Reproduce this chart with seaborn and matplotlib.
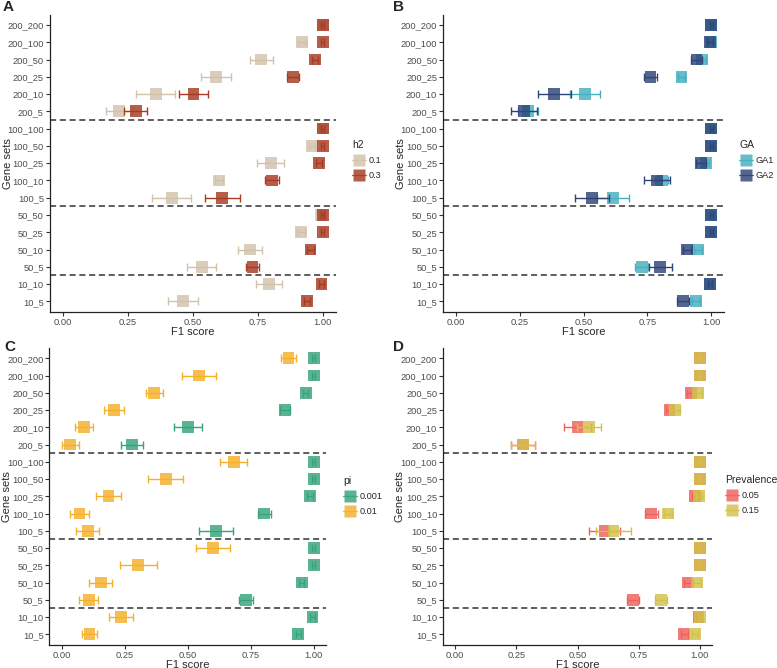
import numpy as np
import pandas as pd
import matplotlib
matplotlib.use("Agg")
import matplotlib.pyplot as plt
import seaborn as sns
from matplotlib.lines import Line2D

# =============================================
# DATA (top row first)
# =============================================
gene_sets = ["200_200", "200_100", "200_50", "200_25", "200_10", "200_5",
             "100_100", "100_50", "100_25", "100_10", "100_5",
             "50_50", "50_25", "50_10", "50_5",
             "10_10", "10_5"]
block_breaks = [5.5, 10.5, 14.5]

# A: heritability
h2_labels = ["0.1", "0.3"]
h2_01_mean = [1.0, 0.92, 0.763, 0.59, 0.358, 0.218, 1.0, 0.958, 0.80, 0.60, 0.419,
              0.993, 0.917, 0.72, 0.535, 0.792, 0.464]
h2_01_err = [0.005, 0.015, 0.044, 0.057, 0.075, 0.05, 0.005, 0.012, 0.052, 0.015, 0.075,
             0.008, 0.015, 0.046, 0.056, 0.05, 0.058]
h2_03_mean = [1.0, 1.0, 0.97, 0.887, 0.503, 0.281, 1.0, 1.0, 0.985, 0.805, 0.614,
              1.0, 1.0, 0.953, 0.73, 0.995, 0.94]
h2_03_err = [0.005, 0.005, 0.012, 0.023, 0.055, 0.045, 0.005, 0.005, 0.012, 0.028, 0.066,
             0.005, 0.005, 0.012, 0.026, 0.01, 0.012]

# B: genetic architecture
ga_labels = ["GA1", "GA2"]
ga1_mean = [1.0, 1.0, 0.965, 0.884, 0.506, 0.283, 1.0, 1.0, 0.98, 0.806, 0.617,
            1.0, 1.0, 0.948, 0.728, 0.995, 0.94]
ga1_err = [0.005, 0.008, 0.015, 0.015, 0.057, 0.04, 0.005, 0.005, 0.012, 0.025, 0.063,
           0.005, 0.005, 0.015, 0.025, 0.008, 0.015]
ga2_mean = [1.0, 0.995, 0.942, 0.762, 0.385, 0.268, 1.0, 1.0, 0.96, 0.787, 0.533,
            1.0, 1.0, 0.905, 0.80, 0.995, 0.89]
ga2_err = [0.005, 0.01, 0.023, 0.026, 0.065, 0.05, 0.005, 0.005, 0.02, 0.05, 0.065,
           0.005, 0.005, 0.015, 0.045, 0.008, 0.023]

# C: proportion of causal variants
pi_labels = ["0.001", "0.01"]
pi_0001_mean = [1.0, 1.0, 0.968, 0.885, 0.50, 0.278, 1.0, 1.0, 0.984, 0.804, 0.612,
                1.0, 1.0, 0.952, 0.731, 0.995, 0.939]
pi_0001_err = [0.005, 0.005, 0.01, 0.02, 0.055, 0.045, 0.005, 0.005, 0.012, 0.027, 0.066,
               0.005, 0.005, 0.01, 0.027, 0.01, 0.01]
pi_001_mean = [0.90, 0.544, 0.367, 0.207, 0.087, 0.033, 0.682, 0.412, 0.185, 0.07, 0.102,
               0.60, 0.303, 0.154, 0.106, 0.234, 0.109]
pi_001_err = [0.03, 0.066, 0.034, 0.04, 0.037, 0.033, 0.053, 0.069, 0.05, 0.038, 0.045,
              0.066, 0.073, 0.046, 0.037, 0.048, 0.03]

# D: prevalence
prev_labels = ["0.05", "0.15"]
prev_005_mean = [1.0, 1.0, 0.963, 0.876, 0.50, 0.278, 1.0, 1.0, 0.982, 0.802, 0.61,
                 1.0, 1.0, 0.95, 0.728, 0.995, 0.937]
prev_005_err = [0.005, 0.005, 0.015, 0.015, 0.055, 0.05, 0.005, 0.005, 0.015, 0.028, 0.063,
                0.005, 0.005, 0.015, 0.025, 0.01, 0.015]
prev_015_mean = [1.0, 1.0, 0.993, 0.90, 0.547, 0.277, 1.0, 1.0, 0.998, 0.87, 0.647,
                 1.0, 1.0, 0.988, 0.84, 1.0, 0.982]
prev_015_err = [0.005, 0.005, 0.015, 0.02, 0.05, 0.05, 0.005, 0.005, 0.012, 0.015, 0.07,
                0.005, 0.005, 0.015, 0.025, 0.008, 0.012]


def make_df(labels, means, errs):
    frames = []
    for lab, m, e in zip(labels, means, errs):
        frames.append(pd.DataFrame({"gene_set": gene_sets, "pos": np.arange(len(gene_sets)),
                                    "f1": m, "err": e, "group": lab}))
    return pd.concat(frames, ignore_index=True)


def draw_panel(ax, df, labels, colors, title, leg_anchor, ylab_x):
    # second group drawn on top of the first, like the original
    for i, (lab, col) in enumerate(zip(labels, colors)):
        sub = df[df["group"] == lab]
        ax.errorbar(sub["f1"], sub["pos"], xerr=sub["err"], fmt="none", ecolor=col,
                    elinewidth=1.0, capsize=3.2, capthick=1.0, zorder=2 + 2 * i)
        sns.scatterplot(data=sub, x="f1", y="pos", color=col, marker="s", s=72,
                        alpha=0.82, edgecolor="none", legend=False, ax=ax, zorder=3 + 2 * i)
    for yb in block_breaks:
        ax.axhline(yb, color="#333333", lw=1.1, ls=(0, (4, 2.4)), zorder=1)
    ax.set_ylim(len(gene_sets) - 0.4, -0.6)
    ax.set_xlim(-0.05, 1.05)
    ax.set_yticks(np.arange(len(gene_sets)))
    ax.set_yticklabels(gene_sets)
    ax.set_xticks([0, 0.25, 0.5, 0.75, 1.0])
    ax.set_xticklabels(["0.00", "0.25", "0.50", "0.75", "1.00"])
    ax.set_xlabel("F1 score", fontsize=8)
    ax.set_ylabel("Gene sets", fontsize=8)
    ax.yaxis.set_label_coords(ylab_x, 0.5)
    ax.xaxis.set_label_coords(0.5, -0.05)
    ax.tick_params(axis="both", labelsize=6.7, labelcolor="#4D4D4D", length=3,
                   width=0.8, color="#333333", pad=1.2)
    for sp in ["left", "bottom"]:
        ax.spines[sp].set_linewidth(0.9)
        ax.spines[sp].set_color("#222222")
    sns.despine(ax=ax)

    handles = [Line2D([0], [0], color=c, marker="s", markersize=8, lw=1.0, alpha=0.82,
                      markeredgecolor="none") for c in colors]
    leg = ax.figure.legend(handles, labels, title=title, loc="upper left",
                           bbox_to_anchor=leg_anchor, frameon=False, fontsize=6.6,
                           title_fontsize=7.5, handlelength=1.5, handletextpad=0.35,
                           labelspacing=0.65, borderaxespad=0, borderpad=0)
    leg._legend_box.align = "left"
    return leg


sns.set_theme(style="ticks")
plt.rcParams["font.family"] = ["Liberation Sans", "DejaVu Sans"]

W, H = 777, 668
fig = plt.figure(figsize=(W / 100, H / 100), dpi=100)


def px_axes(left, right, top, bottom):
    return fig.add_axes([left / W, 1 - bottom / H, (right - left) / W, (bottom - top) / H])


axA = px_axes(49.7, 335.7, 14.6, 311.7)
axB = px_axes(443, 724, 14.6, 311.7)
axC = px_axes(49.4, 326.3, 348, 644.7)
axD = px_axes(443, 712, 348, 644.7)

draw_panel(axA, make_df(h2_labels, [h2_01_mean, h2_03_mean], [h2_01_err, h2_03_err]),
           h2_labels, ["#D2C2AC", "#A63A22"], "h2", (352 / W, 1 - 140 / H), -0.127)
draw_panel(axB, make_df(ga_labels, [ga1_mean, ga2_mean], [ga1_err, ga2_err]),
           ga_labels, ["#45AFBF", "#2E4478"], "GA", (739 / W, 1 - 140 / H), -0.131)
draw_panel(axC, make_df(pi_labels, [pi_0001_mean, pi_001_mean], [pi_0001_err, pi_001_err]),
           pi_labels, ["#36A47A", "#F5B02A"], "pi", (343 / W, 1 - 476 / H), -0.134)
draw_panel(axD, make_df(prev_labels, [prev_005_mean, prev_015_mean], [prev_005_err, prev_015_err]),
           prev_labels, ["#EE605C", "#D2C04A"], "Prevalence", (725 / W, 1 - 475 / H), -0.140)

for letter, x, y in [("A", 3, 7), ("B", 393, 7), ("C", 4, 347), ("D", 393, 347)]:
    fig.text(x / W, 1 - y / H, letter, fontsize=11, fontweight="bold", va="center", ha="left")

fig.savefig("out.png", dpi=100)
